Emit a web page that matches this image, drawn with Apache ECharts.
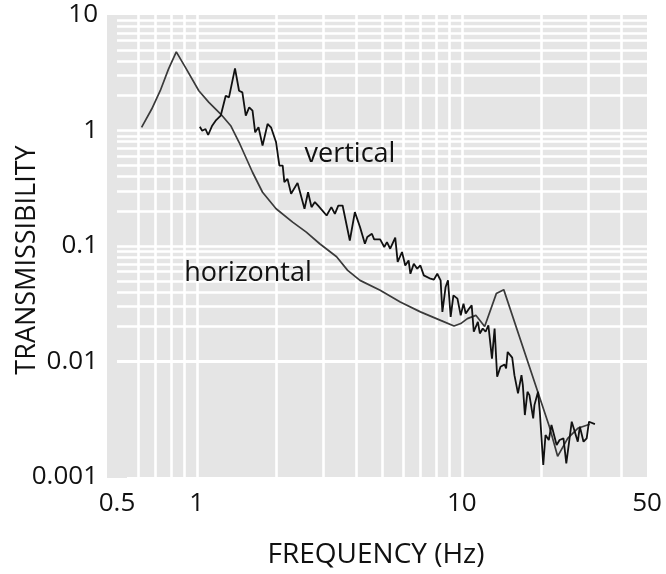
<!DOCTYPE html>
<html>
<head>
<meta charset="utf-8">
<script src="https://cdn.jsdelivr.net/npm/echarts@6/dist/echarts.min.js"></script>
<style>
html,body{margin:0;padding:0;background:#ffffff;}
#chart{width:666px;height:574px;}
</style>
</head>
<body>
<div id="chart"></div>
<script>
// ---- data (frequency in Hz, transmissibility) ----
const horizontalFreq = [0.619,0.676,0.728,0.782,0.837,0.906,1.018,1.111,1.231,1.343,1.444,1.623,1.771,1.992,2.30,2.59,2.91,3.37,3.71,4.13,4.92,5.86,6.98,8.32,9.35,9.91,10.5,11.3,12.2,13.5,14.4,21.4,23.0,25.1,27.4,30.4];
const horizontalVal  = [1.066,1.534,2.21,3.40,4.80,3.52,2.21,1.753,1.388,1.10,0.791,0.435,0.292,0.210,0.161,0.132,0.1046,0.0807,0.0615,0.0504,0.0413,0.0328,0.0269,0.0227,0.0203,0.0213,0.0235,0.0251,0.0201,0.0387,0.0419,0.00274,0.00151,0.00216,0.00264,0.00286];

const verticalFreq = [1.027,1.048,1.079,1.104,1.143,1.178,1.231,1.286,1.323,1.394,1.444,1.486,1.531,1.577,1.623,1.661,1.71,1.771,1.85,1.906,1.992,2.05,2.11,2.14,2.20,2.27,2.40,2.55,2.63,2.71,2.79,2.87,3.09,3.22,3.32,3.42,3.55,3.78,3.95,4.13,4.31,4.40,4.58,4.67,4.92,5.10,5.22,5.37,5.61,5.73,5.95,6.12,6.30,6.40,6.59,6.79,6.98,7.19,7.62,7.85,8.08,8.32,8.45,8.69,8.87,9.08,9.30,9.63,9.91,10.15,10.35,10.66,10.9,11.1,11.5,11.7,12.0,12.3,12.6,13.0,13.3,13.6,14.0,14.5,14.7,14.9,15.5,15.8,16.3,16.8,17.0,17.3,17.7,18.0,18.6,18.8,19.4,19.7,20.3,20.7,21.3,21.8,22.8,23.4,24.2,24.8,26.0,26.7,27.4,27.9,28.8,29.6,30.2,31.8];
const verticalVal  = [1.079,0.996,1.030,0.914,1.100,1.215,1.343,2.00,1.936,3.45,2.21,2.14,1.343,1.586,1.483,0.965,1.066,0.739,1.138,1.066,0.791,0.496,0.496,0.357,0.381,0.283,0.352,0.210,0.292,0.217,0.240,0.224,0.1836,0.217,0.190,0.224,0.224,0.1116,0.1965,0.146,0.1046,0.1195,0.1276,0.114,0.114,0.098,0.108,0.0947,0.118,0.0727,0.0887,0.0679,0.075,0.0575,0.0703,0.0636,0.0679,0.0557,0.0521,0.0511,0.0575,0.0504,0.0269,0.0442,0.0504,0.0243,0.0374,0.035,0.0251,0.0317,0.026,0.0287,0.0306,0.0181,0.0220,0.0175,0.0193,0.0181,0.0206,0.0106,0.0193,0.00738,0.0090,0.00942,0.0087,0.0121,0.0108,0.00762,0.00529,0.00762,0.00624,0.00344,0.00547,0.00512,0.00322,0.00419,0.00547,0.00368,0.00127,0.00231,0.00209,0.00282,0.00189,0.00209,0.00216,0.00131,0.00301,0.00247,0.00202,0.00273,0.00202,0.00216,0.00301,0.00287];

// grid lines (values on the log axes)
const xGridValues = [0.6,0.7,0.8,0.9,1,2,3,4,5,6,7,8,9,10,20,30,40];
const yGridValues = [0.002,0.003,0.004,0.005,0.006,0.007,0.008,0.009,
                     0.01,0.02,0.03,0.04,0.05,0.06,0.07,0.08,0.09,
                     0.1,0.2,0.3,0.4,0.5,0.6,0.7,0.8,0.9,
                     1,2,3,4,5,6,7,8,9];

const xRange = [0.5, 50];
const yRange = [0.001, 10];
const seriesNames = ['horizontal', 'vertical'];

const FONT = 'Open Sans';
const zip = (a, b) => a.map((v, i) => [v, b[i]]);

const chart = echarts.init(document.getElementById('chart'), null, {renderer: 'canvas', width: 666, height: 574});

const option = {
  backgroundColor: '#ffffff',
  animation: false,
  grid: {
    left: 117, right: 19, top: 15, bottom: 96,
    show: true, backgroundColor: '#e5e5e5', borderWidth: 0
  },
  graphic: [
    { type: 'rect', z: 0, silent: true, shape: {x: 107, y: 15, width: 20, height: 463}, style: {fill: '#e5e5e5'} },
    { type: 'text', z: 100, x: 350, y: 154, style: {text: 'vertical', font: '27px "Open Sans"', fill: '#111', align: 'center', verticalAlign: 'middle'} },
    { type: 'text', z: 100, x: 248, y: 273, style: {text: 'horizontal', font: '27px "Open Sans"', fill: '#111', align: 'center', verticalAlign: 'middle'} }
  ],
  xAxis: {
    type: 'log', logBase: 10, min: xRange[0], max: xRange[1],
    axisLine: {show: false}, axisTick: {show: false}, splitLine: {show: false},
    axisLabel: {fontFamily: FONT, fontSize: 26, color: '#111', margin: 14, showMinLabel: true, showMaxLabel: true,
      formatter: v => String(+v.toPrecision(3))},
    name: 'FREQUENCY (Hz)', nameLocation: 'middle', nameGap: 64, nameMoveOverlap: false,
    nameTextStyle: {fontFamily: FONT, fontSize: 28, color: '#111', padding: [0, 12, 0, 0]}
  },
  yAxis: {
    type: 'log', logBase: 10, min: yRange[0], max: yRange[1],
    axisLine: {show: false}, axisTick: {show: false}, splitLine: {show: false},
    axisLabel: {fontFamily: FONT, fontSize: 26, color: '#111', margin: 19, showMinLabel: true, showMaxLabel: true,
      formatter: v => String(+v.toPrecision(3))},
    name: 'TRANSMISSIBILITY', nameLocation: 'middle', nameGap: 76, nameMoveOverlap: false,
    nameTextStyle: {fontFamily: FONT, fontSize: 27, color: '#111', padding: [0, 28, 0, 0]}
  },
  series: [
    {
      type: 'line', name: 'gridlines', data: [], z: 1, silent: true,
      markLine: {
        z: 1, silent: true, symbol: ['none', 'none'], animation: false,
        label: {show: false}, emphasis: {disabled: true},
        lineStyle: {color: '#ffffff', width: 2.6, type: 'solid', opacity: 1},
        data: xGridValues.map(v => ({xAxis: v})).concat(yGridValues.map(v => ({yAxis: v})))
      }
    },
    {
      type: 'line', name: seriesNames[0], data: zip(horizontalFreq, horizontalVal), z: 3,
      showSymbol: false, smooth: false, silent: true,
      lineStyle: {color: '#3a3a3a', width: 1.7}
    },
    {
      type: 'line', name: seriesNames[1], data: zip(verticalFreq, verticalVal), z: 4,
      showSymbol: false, smooth: false, silent: true,
      lineStyle: {color: '#111111', width: 1.8}
    }
  ]
};
chart.setOption(option);
</script>
</body>
</html>
